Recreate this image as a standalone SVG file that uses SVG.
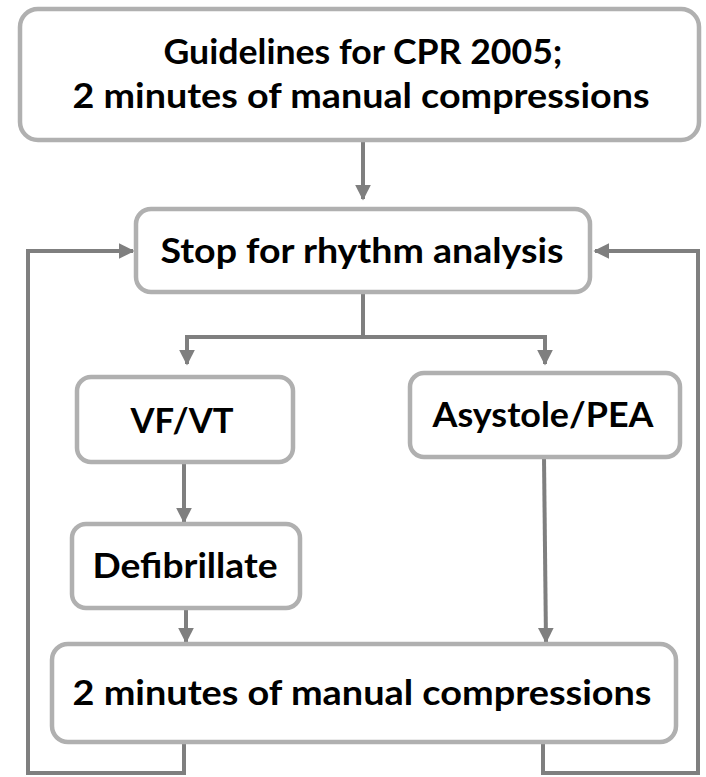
<svg xmlns="http://www.w3.org/2000/svg" width="706" height="777" viewBox="0 0 706 777">
<style>
.box{fill:#fff;stroke:#b0b0b0;stroke-width:4.5}
.t{font-family:Lato,"Open Sans","Liberation Sans",sans-serif;font-weight:bold;font-size:35px;fill:#000;text-anchor:middle}
.c{fill:none;stroke:#7f7f7f;stroke-width:4}
</style>
<defs>
<marker id="ah" viewBox="0 0 10 10" refX="9" refY="5" markerWidth="4" markerHeight="4" orient="auto" markerUnits="strokeWidth">
<path d="M0,0 L10,5 L0,10 z" fill="#7f7f7f"/>
</marker>
</defs>
<g id="connectors">
<path class="c" d="M363,140 V199" marker-end="url(#ah)"/>
<path class="c" d="M363,292 V337 M187,337 H545"/>
<path class="c" d="M187,335 V364" marker-end="url(#ah)"/>
<path class="c" d="M545,335 V364" marker-end="url(#ah)"/>
<path class="c" d="M184,462 V522" marker-end="url(#ah)"/>
<path class="c" d="M186,608 V642" marker-end="url(#ah)"/>
<path class="c" d="M544,457 L546,642" marker-end="url(#ah)"/>
<path class="c" d="M184,742 V773 H28 V251 H133" marker-end="url(#ah)"/>
<path class="c" d="M543,742 V773 H698 V251 H595" marker-end="url(#ah)"/>
</g>
<g id="n1">
<rect class="box" x="20" y="9" width="679" height="131" rx="18"/>
<text class="t" x="363" y="64" textLength="399" lengthAdjust="spacingAndGlyphs">Guidelines for CPR 2005;</text>
<text class="t" x="361" y="108" textLength="577" lengthAdjust="spacingAndGlyphs">2 minutes of manual compressions</text>
</g>
<g id="n2">
<rect class="box" x="136" y="209" width="454" height="83" rx="15"/>
<text class="t" x="362" y="263" textLength="403" lengthAdjust="spacingAndGlyphs">Stop for rhythm analysis</text>
</g>
<g id="n3">
<rect class="box" x="77" y="377" width="216" height="85" rx="14"/>
<text class="t" x="182" y="433" textLength="103" lengthAdjust="spacingAndGlyphs">VF/VT</text>
</g>
<g id="n4">
<rect class="box" x="410" y="373" width="270" height="84" rx="14"/>
<text class="t" x="543" y="427" textLength="221" lengthAdjust="spacingAndGlyphs">Asystole/PEA</text>
</g>
<g id="n5">
<rect class="box" x="72" y="524" width="228" height="84" rx="14"/>
<text class="t" x="185" y="578" textLength="185" lengthAdjust="spacingAndGlyphs">Defibrillate</text>
</g>
<g id="n6">
<rect class="box" x="52" y="644" width="624" height="98" rx="16"/>
<text class="t" x="362" y="705" textLength="579" lengthAdjust="spacingAndGlyphs">2 minutes of manual compressions</text>
</g>
</svg>
